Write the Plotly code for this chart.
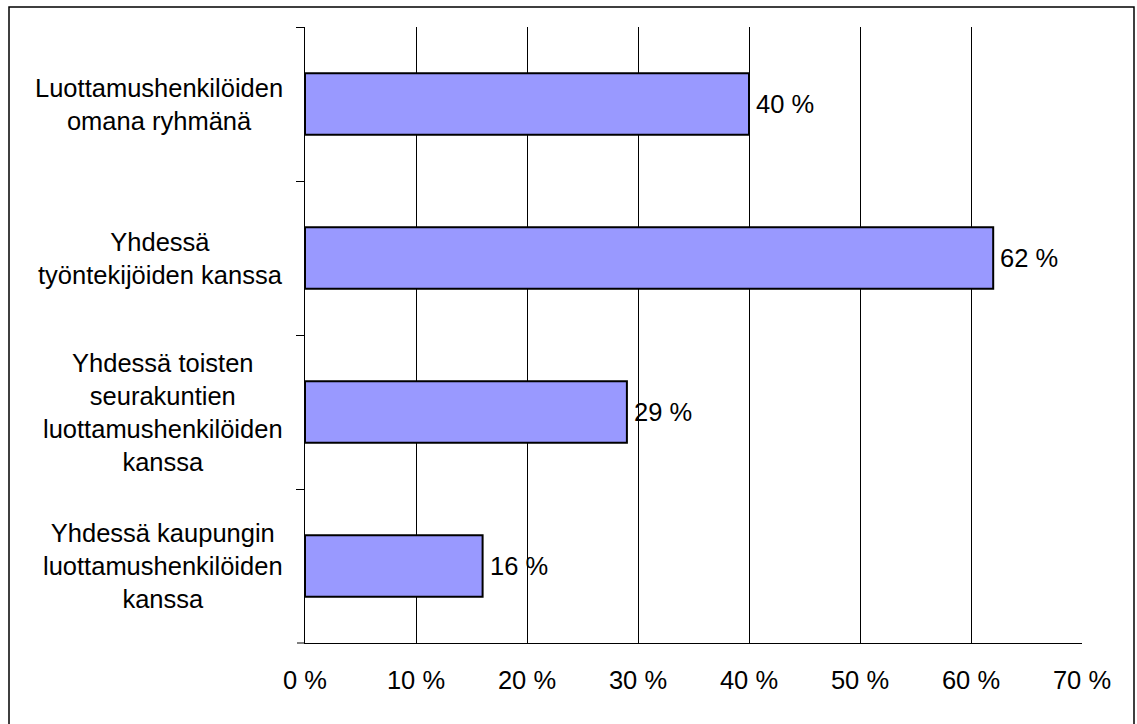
import plotly.graph_objects as go

categories = [
    "Luottamushenkilöiden<br>omana ryhmänä",
    "Yhdessä<br>työntekijöiden kanssa",
    "Yhdessä toisten<br>seurakuntien<br>luottamushenkilöiden<br>kanssa",
    "Yhdessä kaupungin<br>luottamushenkilöiden<br>kanssa",
]
values = [40, 62, 29, 16]
value_labels = ["40 %", "62 %", "29 %", "16 %"]
x_ticks = [0, 10, 20, 30, 40, 50, 60, 70]
x_tick_labels = ["0 %", "10 %", "20 %", "30 %", "40 %", "50 %", "60 %", "70 %"]

FONT = "Liberation Sans, Arial, sans-serif"
FS = 25.5

fig = go.Figure()
fig.add_trace(go.Bar(
    x=values,
    y=categories,
    orientation="h",
    width=0.4,
    marker=dict(color="#9999FF", line=dict(color="black", width=2)),
    hoverinfo="skip",
))

annotations = []
for c, v, lab in zip(categories, values, value_labels):
    annotations.append(dict(
        x=v, y=c, xref="x", yref="y", text=lab, showarrow=False,
        xanchor="left", yanchor="middle", xshift=5,
        font=dict(family=FONT, size=FS, color="black"),
    ))
    annotations.append(dict(
        x=0, y=c, xref="paper", yref="y", text=c, showarrow=False,
        xanchor="right", yanchor="middle", xshift=-20, align="center",
        font=dict(family=FONT, size=FS, color="black"),
    ))

fig.update_layout(
    width=1137, height=724,
    margin=dict(l=305, r=55, t=27, b=81),
    paper_bgcolor="white", plot_bgcolor="white",
    showlegend=False,
    bargap=0.6,
    annotations=annotations,
    shapes=[
        dict(
            type="rect", xref="paper", yref="paper",
            x0=(9 - 305) / 777, x1=(1134 - 305) / 777,
            y0=-0.2, y1=(643 - 7) / 616,
            line=dict(color="black", width=1.5), fillcolor="rgba(0,0,0,0)",
            layer="below",
        ),
        dict(
            type="line", xref="paper", yref="paper",
            x0=-8 / 777, x1=0, y0=0, y1=0,
            line=dict(color="black", width=1),
        ),
    ],
    xaxis=dict(
        range=[0, 70], tickvals=x_ticks, ticktext=x_tick_labels,
        showgrid=True, gridcolor="black", gridwidth=1,
        showline=True, linecolor="black", linewidth=1,
        ticks="", zeroline=False,
        tickfont=dict(family=FONT, size=FS, color="black"),
        ticklabelstandoff=14,
        fixedrange=True,
    ),
    yaxis=dict(
        categoryorder="array", categoryarray=categories,
        autorange="reversed",
        showticklabels=False,
        ticks="outside", ticklen=8, tickcolor="black", tickwidth=1,
        tickson="boundaries",
        showline=True, linecolor="black", linewidth=1,
        showgrid=False, zeroline=False,
        fixedrange=True,
    ),
)

fig.write_html("out.html")
